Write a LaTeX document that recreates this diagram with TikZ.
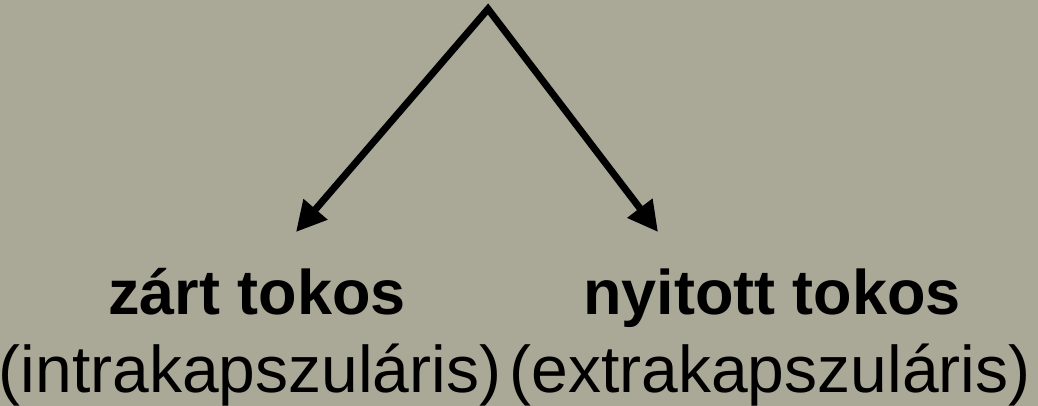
\documentclass[tikz,border=0pt]{standalone}
\usepackage{fontspec}
\setmainfont{Liberation Sans}
\usetikzlibrary{arrows.meta}
\definecolor{bg}{RGB}{170,168,151}
\tikzset{
    title/.style={anchor=base, inner sep=0pt, font=\fontsize{63}{70}\selectfont\bfseries},
    sub/.style={anchor=base, inner sep=0pt, font=\fontsize{66}{72}\selectfont}
}
\begin{document}
\begin{tikzpicture}[x=1pt, y=-1pt, line width=7pt]
\fill[bg] (0,0) rectangle (1038,406);
\useasboundingbox (0,0) rectangle (1038,406);

\coordinate (apex) at (488,9);
\coordinate (ltip) at (296,232);
\coordinate (rtip) at (658,232);
\draw[{Triangle[length=30pt,width=30pt]}-{Triangle[length=30pt,width=30pt]}, line join=miter]
    (ltip)--(apex)--(rtip);

\node[title] (zart) at (257,314) {zárt tokos};
\node[sub] (intra) at (250,392) {(intrakapszuláris)};
\node[title] (nyit) at (772,314) {nyitott tokos};
\node[sub] (extra) at (770,392) {(extrakapszuláris)};

\end{tikzpicture}
\end{document}
